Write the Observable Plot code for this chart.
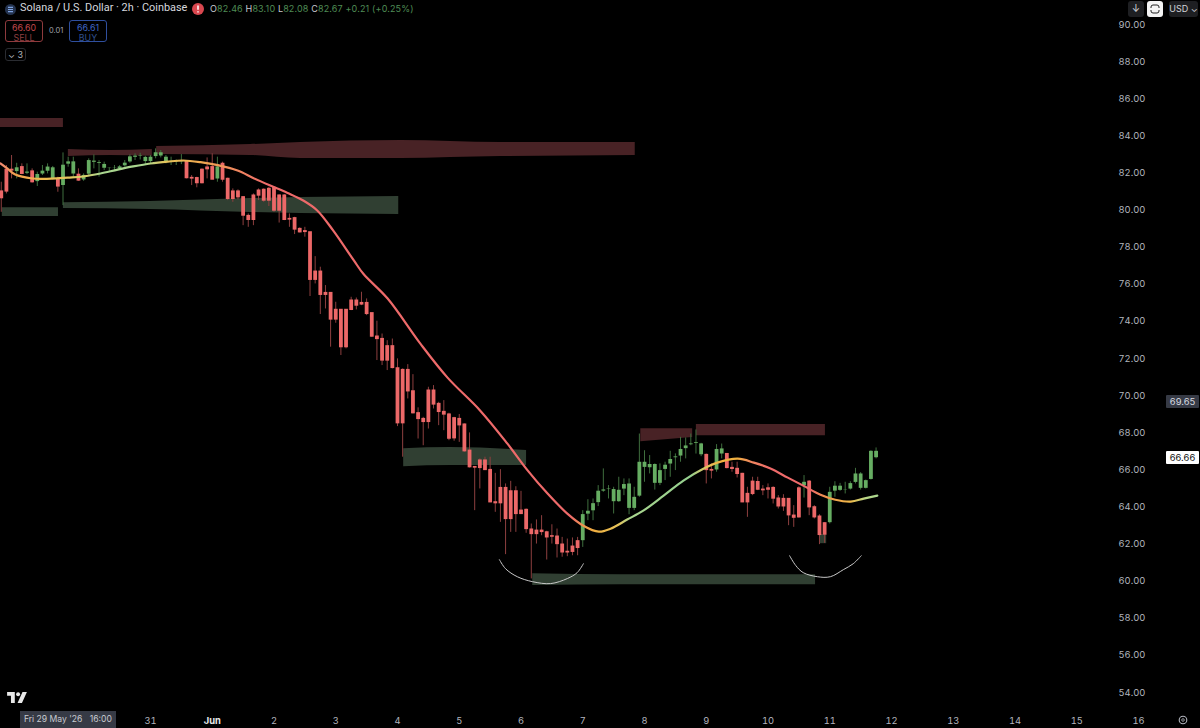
<!DOCTYPE html>
<html><head><meta charset="utf-8">
<script src="https://cdn.jsdelivr.net/npm/d3@7"></script>
<script src="https://cdn.jsdelivr.net/npm/@observablehq/plot@0.6"></script>
<style>
html,body{margin:0;padding:0;background:#000;}
#wrap{position:relative;width:1200px;height:728px;overflow:hidden;background:#000;font-family:Inter,Roboto,sans-serif;}
#wrap svg.plot{display:block;background:#000;}
.ov{position:absolute;white-space:nowrap;line-height:1;}
.box{position:absolute;box-sizing:border-box;border-radius:3px;text-align:center;}
</style></head><body><div id="wrap"></div>
<script>
// candle time: days since 31 May 00:00 (2h candles, candle #114 opens 7 Jun)
const candleCount = 171;
const opens = [81.00,82.17,82.17,82.04,82.31,81.95,82.08,81.50,81.91,82.06,
81.64,81.64,81.29,82.44,81.91,81.90,81.59,81.90,82.54,82.52,
82.22,82.22,82.22,82.18,82.35,82.56,82.81,82.90,82.58,82.58,
82.85,82.88,82.58,82.60,82.61,82.61,82.61,81.73,81.72,82.17,
82.29,82.31,81.64,82.49,81.68,81.00,81.00,80.69,79.68,80.78,
81.05,81.09,81.14,81.19,80.78,80.78,79.52,79.56,78.98,78.86,
78.80,76.68,76.68,75.53,75.53,74.62,74.62,74.62,75.12,75.12,
74.99,74.99,74.44,73.18,73.05,72.66,72.66,71.47,71.38,71.38,
70.23,69.05,68.74,70.27,70.27,69.55,69.12,68.98,68.78,68.74,
68.44,67.03,66.15,66.50,66.50,65.99,64.25,65.02,65.02,64.84,
64.84,63.80,63.84,62.78,62.72,62.72,62.63,62.42,62.40,61.97,
61.58,61.86,62.15,62.15,63.58,63.76,64.20,64.82,64.93,64.25,
64.25,64.93,63.89,63.89,64.55,66.10,66.08,65.24,65.24,65.99,
66.28,66.62,66.71,67.11,67.32,67.43,66.78,66.80,65.99,65.96,
66.82,66.85,66.10,66.05,65.78,64.70,65.36,65.34,64.93,65.00,
65.02,64.45,64.43,64.43,63.53,65.00,65.11,65.36,63.98,63.48,
63.12,63.12,64.82,64.86,64.88,64.93,65.29,64.97,64.97,65.45,66.62];
const highs = [81.50,82.40,82.94,82.52,82.49,82.49,82.22,82.04,82.40,82.49,
82.35,81.77,83.08,82.85,82.85,82.22,81.95,82.76,82.97,82.67,
82.58,82.27,82.40,82.40,82.67,82.97,83.03,83.06,82.90,82.94,
83.30,83.21,82.94,82.85,82.70,82.99,82.67,81.86,81.77,82.22,
82.81,83.03,82.85,82.58,81.72,81.14,81.09,80.73,79.79,80.87,
81.14,81.14,81.23,81.25,80.82,80.84,79.79,79.61,79.04,79.07,
78.80,77.49,76.92,75.93,75.53,75.03,74.62,74.62,75.30,75.26,
75.57,75.21,74.44,74.01,73.32,72.96,73.05,71.98,71.44,71.67,
71.13,69.34,68.83,70.45,70.54,69.64,69.73,69.05,68.83,68.98,
68.47,67.99,66.15,66.59,66.68,66.68,65.81,66.01,65.24,65.38,
65.09,64.84,63.89,63.08,63.30,63.53,62.69,63.04,62.81,62.36,
62.27,62.33,62.36,63.80,64.39,64.43,65.15,66.05,65.15,65.06,
65.60,65.51,65.51,65.06,67.93,67.03,66.77,66.32,66.32,66.41,
67.00,66.86,67.75,67.72,67.93,68.15,67.43,66.85,66.32,67.36,
67.39,66.85,66.41,66.41,65.81,65.06,65.60,65.60,65.15,65.24,
65.09,64.61,64.66,64.45,64.07,65.09,65.69,65.42,64.07,63.58,
63.15,65.06,65.36,65.27,65.33,65.36,66.08,65.85,65.45,67.03,67.18];
const lows = [79.88,80.87,81.68,81.68,81.91,81.91,81.45,81.27,81.86,81.95,
81.63,80.96,80.24,82.31,81.77,81.55,81.55,81.86,82.22,81.77,
82.13,82.09,82.09,82.13,82.31,82.52,82.67,82.70,82.40,82.49,
82.76,82.81,82.49,82.40,82.40,82.45,81.68,81.32,81.20,81.41,
81.68,81.63,81.50,81.50,80.51,80.42,80.55,79.16,79.07,79.16,
80.51,80.42,80.19,79.88,79.30,79.43,79.07,78.68,78.77,78.54,
75.34,76.02,74.37,74.67,72.61,73.90,72.16,72.52,74.58,74.62,
74.85,74.31,73.14,71.89,71.62,71.35,71.44,68.33,66.68,69.82,
69.01,67.66,67.30,68.20,69.28,68.38,68.11,67.57,67.54,67.48,
66.95,66.10,63.80,64.97,65.96,64.23,63.71,63.17,61.43,62.63,
62.63,63.59,62.58,60.12,62.00,62.45,61.14,62.00,61.25,61.29,
61.32,61.37,61.37,61.82,63.26,63.26,64.02,64.79,64.43,63.62,
64.25,64.61,63.58,63.80,64.52,65.33,65.78,64.91,65.15,65.42,
65.60,65.96,66.41,66.59,67.30,66.85,66.71,65.24,65.51,65.87,
66.59,66.05,65.87,65.56,64.23,63.44,64.61,64.88,64.61,64.43,
64.16,63.89,63.76,62.99,62.90,63.40,64.48,63.53,63.35,61.97,
62.04,63.08,64.52,64.84,64.70,64.91,65.24,64.91,64.97,65.45,66.59];
const closes = [80.64,81.00,82.13,82.31,81.95,82.08,81.50,81.95,82.13,82.35,
82.31,81.27,82.45,82.63,82.63,81.59,81.90,82.70,82.67,82.54,
82.49,82.27,82.27,82.36,82.56,82.90,82.94,82.94,82.87,82.88,
83.12,83.12,82.88,82.63,82.63,82.63,81.72,81.70,81.45,81.45,
82.20,81.64,82.36,81.64,80.60,80.60,80.69,79.70,79.47,79.47,
80.78,80.51,80.51,79.97,79.97,79.47,79.49,78.95,78.80,78.82,
76.24,76.24,75.43,75.43,74.10,74.10,72.61,72.61,74.62,74.85,
74.91,74.40,73.18,73.05,71.89,71.89,71.49,68.51,68.51,70.23,
69.05,68.74,68.58,68.58,69.52,69.12,68.98,67.68,67.70,68.40,
67.00,66.14,66.12,66.10,65.99,64.25,64.20,64.20,63.35,63.35,
63.62,63.62,62.81,62.54,62.54,62.65,62.36,62.40,62.00,61.55,
61.55,61.58,61.79,63.62,63.80,64.21,64.88,64.95,64.97,64.97,
64.93,65.24,65.27,64.55,66.44,66.44,66.32,66.32,65.99,66.28,
66.59,66.73,67.13,67.32,67.43,67.45,67.43,65.99,65.96,67.13,
67.16,66.10,66.05,65.78,64.25,64.25,64.70,64.93,64.90,64.93,
64.45,64.03,64.03,63.55,63.42,63.44,65.36,63.98,63.44,62.49,
62.51,64.82,65.15,65.15,64.93,65.29,65.81,65.81,65.45,67.03,67.03];

// moving average (days, price)
const maDays = [-2.43,-2.32,-2.19,-1.91,-1.73,-1.34,-1.09,-0.81,-0.53,-0.28,0,0.28,0.53,0.81,1.09,1.41,1.67,1.94,2.22,2.48,2.70,2.96,3.29,3.45,3.84,4.37,4.81,5.34,5.78,6.11,6.43,6.75,7.01,7.26,7.45,7.72,7.98,8.31,8.63,8.96,9.18,9.51,9.77,10.04,10.32,10.57,10.85,11.09,11.34,11.55,11.77];
const maVals = [82.51,82.24,81.91,81.70,81.68,81.75,81.81,81.97,82.18,82.35,82.51,82.61,82.67,82.58,82.42,82.13,81.72,81.32,80.92,80.50,79.98,78.89,77.30,76.55,75.23,72.80,70.97,69.19,67.41,65.96,64.72,63.64,62.99,62.67,62.83,63.32,63.80,64.61,65.42,66.07,66.39,66.60,66.39,66.07,65.58,65.15,64.66,64.39,64.29,64.45,64.61];
const maStops = [["0%","#f08a70"],["1.7%","#f0a04e"],["4.9%","#efb94f"],["9.7%","#d9cf6a"],["11.4%","#a9d58e"],["16.5%","#a9d58e"],["18.8%","#e5c35a"],["22.8%","#f0a84f"],["26.6%","#f08a5e"],["30.4%","#ee6a6a"],["65%","#ee6a6a"],["66.5%","#f0954e"],["67.8%","#f0b040"],["70.5%","#e5c35a"],["71.8%","#a9d58e"],["78.7%","#94cf8e"],["80.6%","#e5c35a"],["82.1%","#f0b040"],["84%","#efb040"],["85.5%","#f0885e"],["87.8%","#ee6a6a"],["92.4%","#ee6a6a"],["94.1%","#f0954e"],["96.9%","#f0b848"],["98.7%","#b9d888"],["100%","#a9d58e"]];

// hand-drawn zones
const redZones = [
 {d:[-2.43,-1.41],top:[84.93,84.93],bot:[84.45,84.45]},
 {d:[-1.33,-0.65,0.03],top:[83.26,83.21,83.26],bot:[82.88,82.94,82.90]},
 {d:[0.10,1.62,2.43,4.05,5.67,7.85],top:[83.42,83.53,83.64,83.75,83.64,83.64],bot:[82.99,82.94,82.78,82.78,82.88,82.94]},
 {d:[7.94,8.78],top:[68.22,68.22],bot:[67.52,67.74]},
 {d:[8.84,10.93],top:[68.44,68.44],bot:[67.84,67.84]}
];
const greenZones = [
 {d:[-2.40,-1.49],top:[80.13,80.13],bot:[79.65,79.65]},
 {d:[-1.41,0,1.62,2.43,4.02],top:[80.40,80.46,80.62,80.67,80.73],bot:[80.08,80.03,79.87,79.81,79.76]},
 {d:[4.10,4.86,6.09],top:[67.14,67.20,67.04],bot:[66.17,66.23,66.23]},
 {d:[6.19,7.61,10.77],top:[60.40,60.35,60.35],bot:[59.76,59.81,59.81]},
 {d:[10.85,10.95],top:[62.51,62.51],bot:[62.02,62.02]}
];
const arcs = [
 {d:[5.65,5.75,5.94,6.19,6.48,6.75,6.91,7.01],p:[61.16,60.67,60.24,59.97,59.87,60.14,60.46,60.94]},
 {d:[10.35,10.45,10.57,10.80,11.01,11.22,11.38,11.51],p:[61.37,60.84,60.46,60.24,60.24,60.62,60.94,61.37]}
];
const dayTicks = [0,1,2,3,4,5,6,7,8,9,10,11,12,13,14,15,16];
const dayLabels = ["31","Jun","2","3","4","5","6","7","8","9","10","11","12","13","14","15","16"];
const priceTicks = [54,56,58,60,62,64,66,68,70,72,74,76,78,80,82,84,86,88,90];
const lastPrice = 66.66, crossPrice = 69.65, crossDay = -1.33;

const UP="#66ad62", DOWN="#ec6868", UPW="#3f6e3e", DOWNW="#8d3f3f";
const rows = opens.map((o,i)=>({t:7+(i-113)/12,o,h:highs[i],l:lows[i],c:closes[i],up:closes[i]>=o}));
const zoneRows = (zs,name)=>zs.flatMap((z,k)=>z.d.map((d,i)=>({k:name+k,d,top:z.top[i],bot:z.bot[i]})));
const maRows = maDays.map((d,i)=>({d,v:maVals[i]}));
const arcRows = arcs.flatMap((a,k)=>a.d.map((d,i)=>({k,d,p:a.p[i]})));

const chart = Plot.plot({
  width:1200,height:728,marginTop:0,marginLeft:0,marginRight:45,marginBottom:22,
  style:{background:"#000",color:"#b2b5be",fontFamily:"Inter,Roboto,sans-serif",fontSize:"9.4px"},
  x:{type:"linear",domain:[-2.429,16.275],range:[0,1155],axis:null},
  y:{type:"linear",domain:[54,90],range:[692,24],axis:null},
  marks:[
    () => {
      const defs=d3.create("svg:defs");
      const g=defs.append("linearGradient").attr("id","maGrad").attr("x1","0").attr("x2","1").attr("y1","0").attr("y2","0");
      maStops.forEach(([o,c])=>g.append("stop").attr("offset",o).attr("stop-color",c));
      return defs.node();
    },
    Plot.areaY(zoneRows(redZones,"r"),{x:"d",y1:"bot",y2:"top",z:"k",fill:"#482225",curve:"monotone-x"}),
    Plot.areaY(zoneRows(greenZones,"g"),{x:"d",y1:"bot",y2:"top",z:"k",fill:"#303f32",curve:"monotone-x"}),
    Plot.ruleX(rows,{x:"t",y1:"l",y2:"h",stroke:d=>d.up?UPW:DOWNW,strokeWidth:1}),
    Plot.ruleX(rows,{x:"t",y1:"o",y2:"c",stroke:d=>d.up?UP:DOWN,strokeWidth:3.8,insetTop:-0.6,insetBottom:-0.6}),
    Plot.line(maRows,{x:"d",y:"v",stroke:"url(#maGrad)",strokeWidth:2.2,curve:"catmull-rom"}),
    Plot.line(arcRows,{x:"d",y:"p",z:"k",stroke:"#c9c9c9",strokeWidth:1,curve:"catmull-rom"}),
    Plot.axisX({ticks:dayTicks,tickFormat:d=>dayLabels[dayTicks.indexOf(d)],tickSize:0,tickPadding:11,anchor:"bottom",label:null}),
    Plot.axisY({ticks:priceTicks,tickFormat:d=>d.toFixed(2),tickSize:0,tickPadding:-41,dx:4,anchor:"right",label:null,textAnchor:"start"})
  ]
});
const wrap=document.getElementById("wrap");
wrap.appendChild(chart);
// bold the month label
d3.select(chart).selectAll("text").filter(function(){return this.textContent==="Jun";}).attr("font-weight","700").attr("fill","#e8e8ea");

const add=(html)=>{const t=document.createElement("template");t.innerHTML=html.trim();const n=t.content.firstChild;wrap.appendChild(n);return n;};
const yS=v=>chart.scale("y").apply(v), xS=v=>chart.scale("x").apply(v);

// header
add(`<svg class="ov" style="left:5px;top:4px" width="11" height="11" viewBox="0 0 11 11"><circle cx="5.5" cy="5.5" r="5.5" fill="#24334f"/><path d="M3 3.4h5M3 5.5h5M3 7.6h5" stroke="#7ea2e0" stroke-width="1.1"/></svg>`);
add(`<div class="ov" style="left:20px;top:3px;font-family:Roboto,sans-serif;font-size:10.9px;color:#d6d8de">Solana / U.S. Dollar · 2h · Coinbase</div>`);
add(`<svg class="ov" style="left:192px;top:3px" width="12" height="12" viewBox="0 0 12 12"><circle cx="6" cy="6" r="6" fill="#d9474f"/><path d="M6 2.5v4.2M6 8.2v1.3" stroke="#fff" stroke-width="1.5"/></svg>`);
add(`<div class="ov" style="left:210px;top:4px;font-size:9px;color:#4f8c55;letter-spacing:.15px"><span style="color:#c8cad0">O</span>82.46 <span style="color:#c8cad0">H</span>83.10 <span style="color:#c8cad0">L</span>82.08 <span style="color:#c8cad0">C</span>82.67 +0.21 (+0.25%)</div>`);
add(`<div class="box" style="left:5px;top:20px;width:38px;height:22px;border:1px solid #8e3a3d;color:#c0484c;font-size:8.8px;padding-top:2px;line-height:10px">66.60<br><span style="color:#8e3f42">SELL</span></div>`);
add(`<div class="ov" style="left:49px;top:27px;font-size:7.5px;color:#a0a3aa">0.01</div>`);
add(`<div class="box" style="left:69px;top:20px;width:38px;height:22px;border:1px solid #2f4f9e;color:#3f66c4;font-size:8.8px;padding-top:2px;line-height:10px">66.61<br><span style="color:#30508f">BUY</span></div>`);
add(`<div class="box" style="left:5px;top:48px;width:21px;height:13px;border:1px solid #2a2c31;color:#b2b5be;font-size:9px;line-height:11px">⌄ 3</div>`);
// top right buttons
add(`<div class="box" style="left:1128px;top:1px;width:16px;height:16px;background:#1e1f22;color:#d0d2d8;font-size:10px;line-height:15px">↓</div>`);
add(`<div class="box" style="left:1147px;top:1px;width:16px;height:16px;background:#f4f4f4;color:#222;font-size:10px;line-height:15px"><svg width="10" height="10" viewBox="0 0 10 10" style="margin-top:3px"><path d="M1 4V3q0-2 2-2h4q2 0 2 2v1M9 6v1q0 2-2 2H3q-2 0-2-2V6" fill="none" stroke="#222" stroke-width="1"/></svg></div>`);
add(`<div class="box" style="left:1169px;top:1px;width:29px;height:16px;background:#1e1f22;color:#d0d2d8;font-size:9px;line-height:16px">USD ⌄</div>`);

// price labels on the axis, placed through the y scale
add(`<div class="box" style="left:1166px;top:${yS(crossPrice)-6.5}px;width:33px;height:13px;background:#363a45;color:#d8dae0;font-size:9.4px;line-height:13px;border-radius:1px">${crossPrice.toFixed(2)}</div>`);
add(`<div class="box" style="left:1166px;top:${yS(lastPrice)-6.5}px;width:33px;height:13px;background:#fff;color:#111;font-size:9.4px;line-height:13px;border-radius:1px">${lastPrice.toFixed(2)}</div>`);
// crosshair date label
add(`<div class="box" style="left:${xS(crossDay)-48}px;top:711px;width:96px;height:17px;background:#363a45;color:#c8cad0;font-size:8.6px;line-height:17px;border-radius:0">Fri 29 May '26&nbsp;&nbsp; 16:00</div>`);
// logo and settings icon
add(`<svg class="ov" style="left:7px;top:692px" width="20" height="11" viewBox="0 0 36 20"><path d="M0 0H14V20H7V7H0ZM36 0 27 20H19L28 0Z" fill="#e8e8e8"/><circle cx="20" cy="4" r="3.6" fill="#e8e8e8"/></svg>`);
add(`<svg class="ov" style="left:1178px;top:715px" width="10" height="10" viewBox="0 0 10 10"><circle cx="5" cy="5" r="3.8" fill="none" stroke="#b2b5be" stroke-width="1.1"/><circle cx="5" cy="5" r="1.3" fill="none" stroke="#b2b5be" stroke-width=".8"/></svg>`);
</script></body></html>
